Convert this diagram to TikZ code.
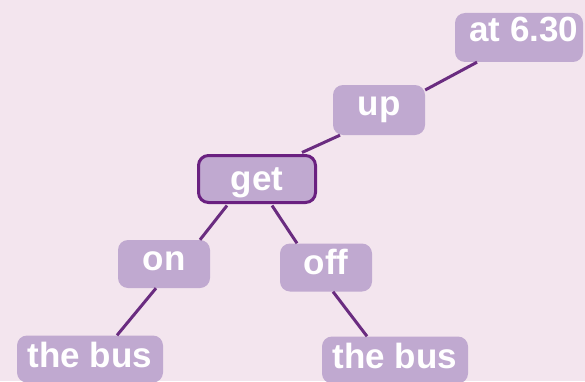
\documentclass[tikz,border=0pt]{standalone}
\usepackage{fontspec}
\setmainfont{Liberation Sans}
\usetikzlibrary{calc}
\definecolor{bgc}{HTML}{F3E5EE}
\definecolor{boxc}{HTML}{C0A9D0}
\definecolor{linec}{HTML}{6A2C80}
\definecolor{getb}{HTML}{6A2080}
\begin{document}
\begin{tikzpicture}[x=1pt,y=1pt,
  wbox/.style={fill=boxc, rounded corners=10pt, inner sep=0pt, text=white,
    font=\fontsize{35}{35}\selectfont\bfseries, text depth=0pt, text height=12pt},
  conn/.style={draw=linec, line width=3pt}]
\fill[bgc] (0,0) rectangle (585,381);
\useasboundingbox (0,0) rectangle (585,381);
\node[wbox, minimum width=128pt, minimum height=49pt, text height=9pt] (at) at (519,343.5) {\hspace{10pt}at 6.30};
\node[wbox, minimum width=92pt, minimum height=50pt, text height=10pt] (up) at (379,271) {up};
\node[wbox, draw=getb, line width=3pt, minimum width=117pt, minimum height=47pt, text height=22pt] (get) at (257,202) {get};
\node[wbox, minimum width=92pt, minimum height=48pt, text height=12pt] (on) at (164,117) {on};
\node[wbox, minimum width=92pt, minimum height=48pt, text height=13pt] (off) at (326,113.5) {off};
\node[wbox, minimum width=146pt, minimum height=47pt, text height=17pt] (busL) at (90,22) {the bus};
\node[wbox, minimum width=146pt, minimum height=47pt, text height=17pt] (busR) at (395,21) {the bus};
\draw[conn] ($(at.south)+(-42,0)$) -- ($(up.east)+(0,20)$);
\draw[conn] ($(up.south)+(-39,0)$) -- ($(get.north)+(45,1.5)$);
\draw[conn] ($(get.south)+(-30,-1.5)$) -- ($(on.north)+(36,0)$);
\draw[conn] ($(get.south)+(15,-1.5)$) -- ($(off.north)+(-29,0)$);
\draw[conn] ($(on.south)+(-8,0)$) -- ($(busL.north)+(27,0)$);
\draw[conn] ($(off.south)+(7,0)$) -- ($(busR.north)+(-28,0)$);
\end{tikzpicture}
\end{document}
